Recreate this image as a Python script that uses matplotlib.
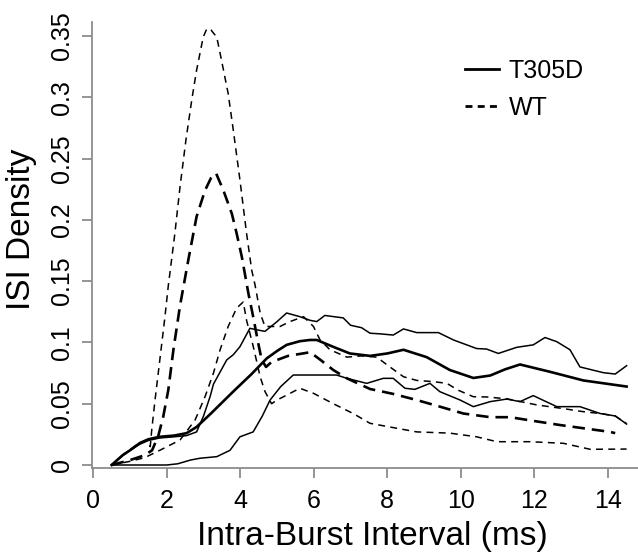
import numpy as np
import matplotlib.pyplot as plt

plt.rcParams['font.family'] = ['Liberation Sans', 'DejaVu Sans']
plt.rcParams['lines.scale_dashes'] = False

# T305D: mean and band
t305d_mean_x = [0.5, 0.8, 1.0, 1.27, 1.5, 1.8, 2.2, 2.54, 2.81, 3.2, 3.81, 4.3, 4.72, 5.0, 5.26, 5.62, 5.9, 6.08,
                6.52, 6.98, 7.53, 8.0, 8.44, 9.07, 9.7, 10.34, 10.8, 11.2, 11.61, 12.43, 13.33, 14.51]
t305d_mean_y = [0.0, 0.008, 0.012, 0.018, 0.021, 0.023, 0.024, 0.026, 0.031, 0.042, 0.06, 0.074, 0.087, 0.093, 0.098,
                0.101, 0.102, 0.102, 0.0965, 0.091, 0.089, 0.091, 0.094, 0.088, 0.0775, 0.071, 0.073, 0.078, 0.082,
                0.076, 0.069, 0.064]

t305d_hi_x = [0.5, 0.8, 1.0, 1.27, 1.5, 1.8, 2.2, 2.54, 2.81, 3.0, 3.18, 3.27, 3.63, 3.81, 3.99, 4.26, 4.5, 4.67,
              5.0, 5.26, 5.62, 5.9, 6.08, 6.3, 6.8, 7.0, 7.3, 7.53, 7.8, 8.16, 8.44, 8.8, 9.39, 9.8, 10.43, 10.7,
              11.02, 11.52, 11.97, 12.29, 12.61, 12.97, 13.24, 13.88, 14.2, 14.51]
t305d_hi_y = [0.0, 0.008, 0.012, 0.017, 0.02, 0.022, 0.023, 0.024, 0.027, 0.04, 0.056, 0.066, 0.0857, 0.09, 0.0965,
              0.1115, 0.11, 0.109, 0.117, 0.124, 0.121, 0.118, 0.117, 0.122, 0.12, 0.114, 0.112, 0.1075, 0.107,
              0.106, 0.111, 0.108, 0.108, 0.102, 0.095, 0.0946, 0.091, 0.096, 0.098, 0.104, 0.1006, 0.094, 0.080,
              0.0753, 0.0742, 0.081]

t305d_lo_x = [0.5, 1.0, 1.5, 2.0, 2.3, 2.64, 2.9, 3.36, 3.72, 3.99, 4.35, 4.6, 4.81, 5.1, 5.44, 5.99, 6.62, 6.9,
              7.44, 7.89, 8.16, 8.48, 8.75, 9.16, 9.43, 9.98, 10.34, 10.8, 11.25, 11.61, 11.97, 12.61, 13.24,
              13.79, 14.2, 14.51]
t305d_lo_y = [0.0, 0.0, 0.0, 0.0, 0.001, 0.004, 0.0055, 0.0068, 0.012, 0.023, 0.027, 0.04, 0.053, 0.064, 0.0734,
              0.0734, 0.0734, 0.0707, 0.0666, 0.0707, 0.0707, 0.0626, 0.0617, 0.0666, 0.0598, 0.053, 0.0476, 0.0517,
              0.0538, 0.0517, 0.0566, 0.0476, 0.0476, 0.042, 0.040, 0.0334]

# WT: mean and band
wt_mean_x = [0.5, 1.0, 1.4, 1.6, 1.77, 1.9, 2.04, 2.18, 2.36, 2.59, 2.81, 3.04, 3.2, 3.34, 3.54, 3.77, 3.9, 4.04,
             4.22, 4.35, 4.49, 4.58, 4.7, 4.85, 5.3, 5.9, 6.17, 6.53, 6.9, 7.53, 8.16, 8.8, 9.43, 10.07, 10.8,
             11.34, 11.97, 12.7, 13.33, 14.06, 14.2]
wt_mean_y = [0.0, 0.004, 0.008, 0.012, 0.024, 0.039, 0.061, 0.094, 0.13, 0.168, 0.2026, 0.224, 0.234, 0.238, 0.224,
             0.205, 0.189, 0.17, 0.14, 0.121, 0.099, 0.086, 0.08, 0.084, 0.089, 0.092, 0.086, 0.0775, 0.0707, 0.062,
             0.058, 0.053, 0.0476, 0.042, 0.039, 0.039, 0.036, 0.0326, 0.030, 0.027, 0.026]

wt_hi_x = [0.5, 0.8, 1.2, 1.45, 1.55, 1.59, 1.68, 1.81, 1.95, 2.04, 2.22, 2.36, 2.52, 2.68, 2.81, 2.99, 3.09, 3.2,
           3.36, 3.49, 3.67, 3.81, 3.99, 4.17, 4.31, 4.4, 4.54, 4.67, 5.08, 5.35, 5.72, 5.99, 6.17, 6.44, 6.9,
           7.3, 7.71, 8.07, 8.44, 8.8, 9.25, 9.62, 9.93, 10.34, 10.7, 11.25, 12.07, 12.79, 13.33, 13.8, 14.2, 14.5]
wt_hi_y = [0.0, 0.008, 0.017, 0.02, 0.015, 0.0286, 0.053, 0.0857, 0.121, 0.146, 0.189, 0.227, 0.265, 0.298, 0.322,
           0.349, 0.356, 0.355, 0.349, 0.33, 0.303, 0.273, 0.2325, 0.189, 0.159, 0.147, 0.124, 0.113, 0.113, 0.117,
           0.121, 0.113, 0.102, 0.094, 0.088, 0.089, 0.088, 0.080, 0.072, 0.069, 0.068, 0.0666, 0.061, 0.0557,
           0.0555, 0.054, 0.049, 0.046, 0.0435, 0.042, 0.040, 0.034]

wt_lo_x = [0.5, 1.0, 1.4, 1.81, 2.27, 2.36, 2.77, 3.04, 3.27, 3.45, 3.67, 3.9, 4.08, 4.17, 4.35, 4.54, 4.67, 4.85,
           5.0, 5.26, 5.62, 5.99, 6.53, 7.07, 7.53, 8.07, 8.8, 9.7, 10.43, 10.98, 11.88, 12.79, 13.52, 14.51]
wt_lo_y = [0.0, 0.003, 0.006, 0.012, 0.019, 0.0204, 0.0367, 0.0557, 0.075, 0.094, 0.113, 0.128, 0.133, 0.118,
           0.097, 0.072, 0.06, 0.05, 0.053, 0.057, 0.0626, 0.0585, 0.050, 0.042, 0.034, 0.031, 0.027, 0.026, 0.023,
           0.019, 0.019, 0.0177, 0.0128, 0.013]

x_ticks = [0, 2, 4, 6, 8, 10, 12, 14]
y_ticks = [0, 0.05, 0.1, 0.15, 0.2, 0.25, 0.3, 0.35]
y_tick_labels = ['0', '0.05', '0.1', '0.15', '0.2', '0.25', '0.3', '0.35']

fig = plt.figure(figsize=(6.38, 5.54), dpi=100)
ax = fig.add_axes([92 / 638, 86 / 554, 546 / 638, 446 / 554])

thin_dash = (5, 3.8)
thick_dash = (9, 5)

ax.plot(t305d_mean_x, t305d_mean_y, color='black', lw=1.9, label='T305D')
ax.plot(t305d_hi_x, t305d_hi_y, color='black', lw=1.1)
ax.plot(t305d_lo_x, t305d_lo_y, color='black', lw=1.1)
ax.plot(wt_mean_x, wt_mean_y, color='black', lw=1.9, dashes=thick_dash)
ax.plot(wt_hi_x, wt_hi_y, color='black', lw=1.1, dashes=thin_dash, label='WT')
ax.plot(wt_lo_x, wt_lo_y, color='black', lw=1.1, dashes=thin_dash)

ax.set_xlim(-0.035, 14.82)
ax.set_ylim(-0.00245, 0.3614)

for side in ['top', 'right']:
    ax.spines[side].set_visible(False)
for side in ['left', 'bottom']:
    ax.spines[side].set_color('#8c8c8c')
    ax.spines[side].set_linewidth(1.3)

ax.set_xticks(x_ticks)
ax.set_yticks(y_ticks)
ax.set_yticklabels(y_tick_labels, rotation=90, va='center')
ax.tick_params(axis='both', colors='#8c8c8c', labelcolor='black', length=7, width=1.3, labelsize=18)
ax.tick_params(axis='x', pad=8)
ax.tick_params(axis='y', pad=6)

fig.text(372 / 638, 1 - 537 / 554, 'Intra-Burst Interval (ms)', ha='center', va='center', fontsize=24)
fig.text(22 / 638, 1 - 229 / 554, 'ISI Density', ha='center', va='center', rotation=90, fontsize=24)

leg = ax.legend(loc='upper left', bbox_to_anchor=(465 / 638, 1 - 59 / 554), bbox_transform=fig.transFigure,
                frameon=False, fontsize=18, handlelength=1.36, handletextpad=0.38, labelspacing=0.52,
                borderpad=0, borderaxespad=0)
for h in leg.get_lines():
    h.set_linewidth(2.0)

fig.savefig('out.png', dpi=100)
